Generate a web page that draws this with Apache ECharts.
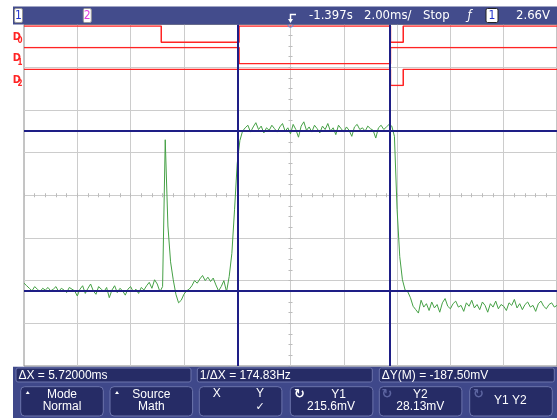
<!DOCTYPE html>
<html><head><meta charset="utf-8">
<script src="https://cdn.jsdelivr.net/npm/echarts@6/dist/echarts.min.js"></script>
<style>html,body{margin:0;padding:0;background:#fff}#c{width:557px;height:420px}</style>
</head><body><div id="c"></div>
<script>
// ---------- data ----------
const timeStartMs = -10;      // left edge of screen (ms, relative to centre)
const sampleStepMs = 0.1;     // sample spacing of the analog trace
const analogMv = [
  37, 34, 31, 28, 33, 30, 27, 31, 29, 32,
  28, 30, 33, 27, 31, 29, 26, 32, 30, 28,
  22, 30, 34, 25, 31, 36, 28, 24, 33, 30,
  27, 32, 20, 29, 34, 26, 31, 28, 23, 30,
  33, 27, 30, 25, 32, 29, 34, 38, 31, 41,
  36, 27, 33,
  205, 104, 62, 41, 24, 14, 17, 24, 28, 30,
  34, 40, 37, 42, 46, 40, 44, 39, 43, 35, 28, 33, 40, 27,
  45, 72, 123, 177, 204, 215,
  219, 222, 214, 220, 225, 217, 221, 213, 219, 216,
  222, 218, 214, 220, 224, 215, 219, 212, 223, 217,
  208, 221, 226, 216, 220, 214, 222, 218, 213, 221,
  217, 224, 215, 219, 211, 222, 218, 214, 220, 216,
  209, 220, 223, 217, 219, 215, 221, 218, 216, 207,
  219, 222, 217, 220, 223, 221,
  209, 123, 68, 41, 29, 27, 20, 10,
  6, 2, 17, 9, 13, 5, 15, 8, 12, 3,
  14, 19, 10, 7, 13, 16, 9, 11, 4, 14,
  10, 17, 8, 12, 6, 15, 11, 3, 13, 9,
  16, 7, 12, 10, 5, 14, 11, 18, 8, 13,
  6, 12, 15, 9, 11, 4, 13, 16, 10, 7,
  12, 14, 9, 11
];
const cursorXms = [-1.98, 3.74];
const cursorYmv = [215.6, 28.13];
const d0Times = [-10, -4.85, -1.93, 3.75, 4.23, 10];
const d0States = [1, 0, 1, 0, 1, 1];
const d1Times = [-10, -1.93, 3.75, 10];
const d1States = [1, 0, 1, 1];
const d2Times = [-10, 3.75, 4.23, 10];
const d2States = [1, 0, 1, 1];
const digitalLabels = ['0', '1', '2'];
const headerTexts = ['-1.397s', '2.00ms/', 'Stop', '2.66V'];
const statusTexts = ['ΔX = 5.72000ms', '1/ΔX = 174.83Hz', 'ΔY(M) = -187.50mV'];
const keyTexts = [['Mode', 'Normal'], ['Source', 'Math'], ['X', 'Y', '✓'],
                  ['Y1', '215.6mV'], ['Y2', '28.13mV'], ['Y1 Y2']];

// ---------- build ----------
const FONT = '"Liberation Sans Narrow","DejaVu Sans Condensed","Arial Narrow",sans-serif';
const SANS = '"Liberation Sans",Arial,sans-serif';
const G = { left: 24, top: 24.5, width: 533, height: 341.5 };
const analogData = analogMv.map((v, i) => [timeStartMs + i * sampleStepMs, v]);
const pairs = (t, s) => t.map((x, i) => [x, s[i]]);
const digTops = [26, 47.5, 69.2];

const grids = [
  Object.assign({ show: true, borderColor: '#8a8a8a', borderWidth: 1 }, G),
  Object.assign({}, G)
].concat(digTops.map(t => ({ left: G.left, width: G.width, top: t, height: 16.3 })));

const gridLineStyle = { color: '#cccccc', width: 1 };
const xAxes = [
  { type: 'value', gridIndex: 0, min: -5, max: 5, interval: 1, position: 'bottom',
    axisLine: { onZero: true, lineStyle: gridLineStyle }, axisLabel: { show: false },
    axisTick: { show: true, length: 2, lineStyle: { color: '#bbbbbb' } },
    minorTick: { show: true, splitNumber: 5, length: 2, lineStyle: { color: '#bbbbbb' } },
    splitLine: { show: true, lineStyle: gridLineStyle, showMinLine: false, showMaxLine: false } },
  { type: 'value', gridIndex: 0, min: -5, max: 5, interval: 1, position: 'top',
    axisLine: { onZero: true, lineStyle: gridLineStyle }, axisLabel: { show: false },
    axisTick: { show: true, length: 2, lineStyle: { color: '#bbbbbb' } },
    minorTick: { show: true, splitNumber: 5, length: 2, lineStyle: { color: '#bbbbbb' } },
    splitLine: { show: false } },
  { type: 'value', gridIndex: 1, min: -10, max: 10, show: false },
  { type: 'value', gridIndex: 2, min: -10, max: 10, show: false },
  { type: 'value', gridIndex: 3, min: -10, max: 10, show: false },
  { type: 'value', gridIndex: 4, min: -10, max: 10, show: false }
];
const yAxes = [
  { type: 'value', gridIndex: 0, min: -4, max: 4, interval: 1, position: 'left',
    axisLine: { onZero: true, lineStyle: gridLineStyle }, axisLabel: { show: false },
    axisTick: { show: true, length: 2, lineStyle: { color: '#bbbbbb' } },
    minorTick: { show: true, splitNumber: 4, length: 2, lineStyle: { color: '#bbbbbb' } },
    splitLine: { show: true, lineStyle: gridLineStyle, showMinLine: false, showMaxLine: false } },
  { type: 'value', gridIndex: 0, min: -4, max: 4, interval: 1, position: 'right',
    axisLine: { onZero: true, lineStyle: gridLineStyle }, axisLabel: { show: false },
    axisTick: { show: true, length: 2, lineStyle: { color: '#bbbbbb' } },
    minorTick: { show: true, splitNumber: 4, length: 2, lineStyle: { color: '#bbbbbb' } },
    splitLine: { show: false } },
  { type: 'value', gridIndex: 1, min: -60, max: 340, show: false },
  { type: 'value', gridIndex: 2, min: 0, max: 1, show: false },
  { type: 'value', gridIndex: 3, min: 0, max: 1, show: false },
  { type: 'value', gridIndex: 4, min: 0, max: 1, show: false }
];

const red = '#ff2424';
const digSeries = [[d0Times, d0States], [d1Times, d1States], [d2Times, d2States]].map((d, k) => ({
  type: 'line', xAxisIndex: 3 + k, yAxisIndex: 3 + k, step: 'end', symbol: 'none',
  data: pairs(d[0], d[1]), lineStyle: { color: red, width: 1.5 }, silent: true, z: 3
}));

const cursorColor = '#1e1e86';
const series = [
  { type: 'line', xAxisIndex: 2, yAxisIndex: 2, data: analogData, symbol: 'none',
    lineStyle: { color: '#45a045', width: 1 }, silent: true, z: 4,
    markLine: { silent: true, symbol: ['none', 'none'], animation: false,
      label: { show: false },
      lineStyle: { color: cursorColor, width: 2, type: 'solid' },
      data: cursorXms.map(x => ({ xAxis: x })).concat(cursorYmv.map(y => ({ yAxis: y }))) } }
].concat(digSeries);

// ---------- screen furniture (header / footer) ----------
const W = '#ffffff';
const gfx = [];
const txt = (x, y, s, o) => gfx.push(Object.assign({ type: 'text', x, y, z: 102,
  style: Object.assign({ text: s, fill: W, font: '12px ' + FONT, textAlign: 'left', textVerticalAlign: 'middle' }, o || {}) }));
const rect = (x, y, w, h, fill, stroke, r, z) => gfx.push({ type: 'rect', z: z || 101,
  shape: { x, y, width: w, height: h, r: r || 0 }, style: { fill, stroke: stroke || null, lineWidth: 1 } });

// trigger position marker
gfx.push({ type: 'circle', z: 99, shape: { cx: 290.5, cy: 24.5, r: 2.8 }, style: { fill: 'none', stroke: '#5b8fe0', lineWidth: 1 } });
// header bar
rect(13, 6.5, 544, 18, '#434c8c', null, 0, 100);
rect(14.5, 8.5, 8, 14, '#ffffff', '#999999', 1.5);
txt(18.5, 15.8, '1', { fill: '#2233cc', textAlign: 'center', font: '12px ' + FONT });
rect(83.3, 8.5, 8, 14, '#ffffff', '#999999', 1.5);
txt(87.3, 15.8, '2', { fill: '#e03ee0', textAlign: 'center', font: '12px ' + FONT });
gfx.push({ type: 'polyline', z: 102, shape: { points: [[296, 14.5], [290.5, 14.5], [290.5, 20]] }, style: { stroke: W, lineWidth: 1.5, fill: 'none' } });
gfx.push({ type: 'polygon', z: 102, shape: { points: [[288, 19], [293, 19], [290.5, 23]] }, style: { fill: W } });
txt(309, 15.5, headerTexts[0], { font: '13px ' + FONT });
txt(364, 15.5, headerTexts[1], { font: '13px ' + FONT });
txt(423, 15.5, headerTexts[2], { font: '13px ' + FONT });
txt(469.5, 15.5, 'ƒ', { textAlign: 'center', font: 'italic 13px ' + FONT });
rect(486, 8.5, 12, 14, '#ffffff', '#222222', 1.5);
txt(492, 15.8, '1', { fill: '#2233cc', textAlign: 'center', font: '12px ' + FONT });
txt(516, 15.5, headerTexts[3], { font: '13px ' + FONT });

// digital channel labels
digTops.forEach((t, k) => {
  txt(12.8, t + 10.8, 'D', { fill: red, font: 'bold 11px ' + FONT });
  txt(17.6, t + 15.2, digitalLabels[k], { fill: red, font: 'bold 8px ' + FONT });
});

// footer
rect(13, 366.7, 544, 51.3, '#3f488a', null, 0, 100);
const statusX = [16, 197.3, 379.3];
statusX.forEach((x, k) => {
  rect(x, 368, 175, 14, '#262c66', '#6c74ac', 2);
  txt(x + 2.5, 375.5, statusTexts[k], { font: '12px ' + SANS });
});
const keyX = [20.7, 110, 199.3, 290.3, 379.3, 469.7];
const KW = 82.6;
keyX.forEach(x => rect(x, 386.7, KW, 29.3, '#262c66', '#6c74ac', 4));
const tri = x => gfx.push({ type: 'polygon', z: 102, shape: { points: [[x, 394], [x + 4, 394], [x + 2, 391]] }, style: { fill: W } });
tri(keyX[0] + 5); tri(keyX[1] + 5);
const f13 = { textAlign: 'center', font: '12px ' + SANS };
txt(keyX[0] + KW / 2, 394.5, keyTexts[0][0], f13);
txt(keyX[0] + KW / 2, 406.5, keyTexts[0][1], f13);
txt(keyX[1] + KW / 2, 394.5, keyTexts[1][0], f13);
txt(keyX[1] + KW / 2, 406.5, keyTexts[1][1], f13);
txt(216.7, 394, keyTexts[2][0], f13);
txt(260, 394, keyTexts[2][1], f13);
txt(260, 407, keyTexts[2][2], { textAlign: 'center', font: '11px "DejaVu Sans",sans-serif' });
txt(299.5, 395, '↻', { textAlign: 'center', font: 'bold 13px "DejaVu Sans",sans-serif' });
txt(338.5, 394.5, keyTexts[3][0], f13);
txt(331, 406.5, keyTexts[3][1], f13);
txt(387, 395, '↻', { textAlign: 'center', fill: '#5c64a0', font: 'bold 13px "DejaVu Sans",sans-serif' });
txt(420.3, 394.5, keyTexts[4][0], f13);
txt(420.3, 406.5, keyTexts[4][1], f13);
txt(478.5, 395, '↻', { textAlign: 'center', fill: '#5c64a0', font: 'bold 13px "DejaVu Sans",sans-serif' });
txt(510.3, 400.5, keyTexts[5][0], f13);

const chart = echarts.init(document.getElementById('c'), null, { renderer: 'canvas' });
chart.setOption({
  animation: false,
  backgroundColor: '#ffffff',
  grid: grids,
  xAxis: xAxes,
  yAxis: yAxes,
  series: series,
  graphic: { elements: gfx }
});
</script></body></html>
